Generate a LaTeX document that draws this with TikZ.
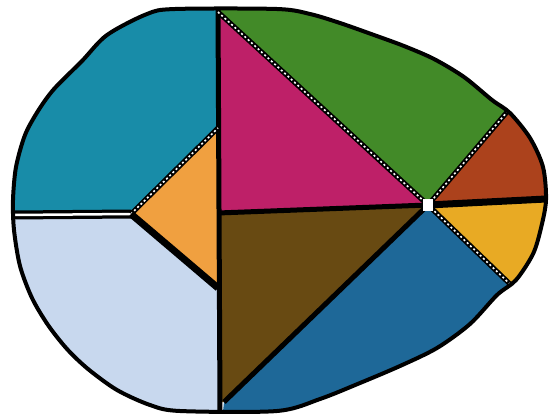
\documentclass[tikz,border=0pt]{standalone}
\usetikzlibrary{calc}
\begin{document}
\begin{tikzpicture}[x=1pt,y=-1pt]
\definecolor{cyanreg}{RGB}{24,140,168}
\definecolor{magreg}{RGB}{190,32,104}
\definecolor{greenreg}{RGB}{66,138,40}
\definecolor{redreg}{RGB}{172,66,28}
\definecolor{orangereg}{RGB}{240,160,64}
\definecolor{yellowreg}{RGB}{232,170,36}
\definecolor{lbluereg}{RGB}{200,216,238}
\definecolor{brownreg}{RGB}{104,74,18}
\definecolor{bluereg}{RGB}{30,104,152}
\tikzset{
  divline/.style={draw=black,line width=5pt},
  dotline/.style={draw=white,line width=1.6pt,dash pattern=on 2pt off 2.5pt},
}
\useasboundingbox (0,0) rectangle (554,418);
\fill[white] (0,0) rectangle (554,418);
\path[save path=\eggpath] plot[smooth cycle, tension=0.5] coordinates {
(147,14) (175,9) (277,9) (310,14) (340,23) (374,35) (404,46) (434,59)
(464,77) (492,100) (510,113) (530,138) (543,167) (546,200)
(541,228) (533,254) (516,280) (497,295) (470,324) (437,348) (400,366)
(360,383) (320,399) (277,411) (180,411) (150,405) (117,390) (88,369)
(67,349) (48,325) (32,298) (20,266) (14,230) (13,200) (16,167) (25,135)
(38,111) (54,89) (82,61) (107,35)};
\coordinate (C) at (428,205);
\coordinate (Vt) at (218,8);
\coordinate (Vb) at (220,411);
\coordinate (A) at (131,214);
\coordinate (O1) at (218,128);
\coordinate (O2) at (218,288);
\coordinate (Bb) at (224,402);
\coordinate (G) at (507,112);
\coordinate (Y) at (512,286);
\coordinate (Rr) at (546,199);
\coordinate (Ll) at (13,215);
\coordinate (Mm) at (218,213);
\begin{scope}
\clip[use path=\eggpath];
\fill[cyanreg] (0,0) -- (218,0) -- (O1) -- (A) -- (0,214) -- cycle;
\fill[orangereg] (A) -- (O1) -- (O2) -- cycle;
\fill[lbluereg] (0,214) -- (A) -- (O2) -- (218,430) -- (0,430) -- cycle;
\fill[greenreg] (218,-20) -- (218,12) -- (C) -- (620,-27) -- cycle;
\fill[magreg] (218,12) -- (C) -- (Mm) -- cycle;
\fill[redreg] (C) -- (620,-27) -- (620,198) -- cycle;
\fill[yellowreg] (C) -- (650,195) -- (650,422) -- cycle;
\fill[bluereg] (C) -- (650,422) -- (650,440) -- (220,440) -- (Bb) -- cycle;
\fill[brownreg] (Mm) -- (C) -- (Bb) -- (218,402) -- cycle;
% dividing lines
\draw[divline] (Vt) -- (Vb);
\draw[draw=black,line width=9pt] (Ll) -- (A);
\draw[draw=white,line width=2.5pt] (Ll) -- (A);
\draw[divline] (Mm) -- (C);
\draw[draw=black,line width=7pt] (C) -- (Rr);
\draw[divline] (A) -- (O1);
\draw[dotline] (A) -- (O1);
\draw[draw=black,line width=7pt] (A) -- (O2);
\draw[divline] (218,12) -- (C);
\draw[dotline] (218,12) -- (C);
\draw[divline] (C) -- (G);
\draw[dotline] (C) -- (G);
\draw[divline] (C) -- (Y);
\draw[dotline] (C) -- (Y);
\draw[divline] (C) -- (Bb);
\end{scope}
\draw[black,line width=4pt,use path=\eggpath];
\fill[white] ($(C)+(-5,-6)$) rectangle ($(C)+(5,6)$);
\end{tikzpicture}
\end{document}
